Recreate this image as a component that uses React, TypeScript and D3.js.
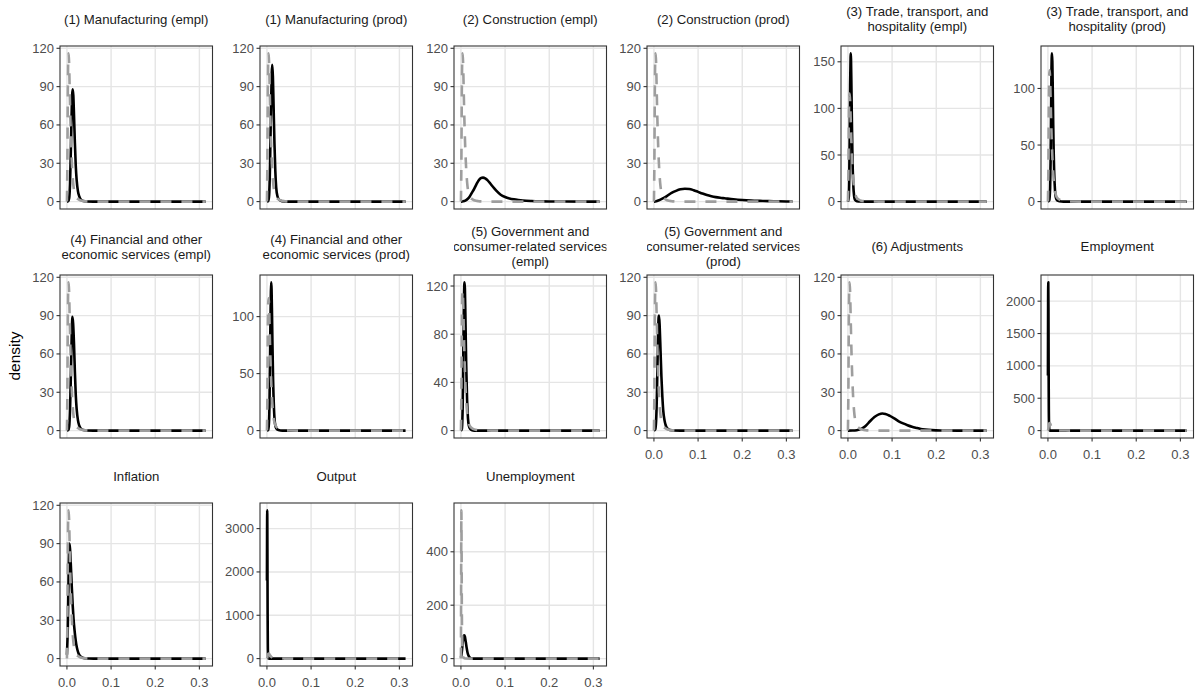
import * as d3 from "d3";
import React from "react";

type Pt = [number, number];

// facet titles, in facet_wrap order (6 columns)
const panelTitles = [
	"(1) Manufacturing (empl)",
	"(1) Manufacturing (prod)",
	"(2) Construction (empl)",
	"(2) Construction (prod)",
	"(3) Trade, transport, and\nhospitality (empl)",
	"(3) Trade, transport, and\nhospitality (prod)",
	"(4) Financial and other\neconomic services (empl)",
	"(4) Financial and other\neconomic services (prod)",
	"(5) Government and\nconsumer-related services\n(empl)",
	"(5) Government and\nconsumer-related services\n(prod)",
	"(6) Adjustments",
	"Employment",
	"Inflation",
	"Output",
	"Unemployment",
];

const yTicks = [
	[0, 30, 60, 90, 120],
	[0, 30, 60, 90, 120],
	[0, 30, 60, 90, 120],
	[0, 30, 60, 90, 120],
	[0, 50, 100, 150],
	[0, 50, 100],
	[0, 30, 60, 90, 120],
	[0, 50, 100],
	[0, 40, 80, 120],
	[0, 30, 60, 90, 120],
	[0, 30, 60, 90, 120],
	[0, 500, 1000, 1500, 2000],
	[0, 30, 60, 90, 120],
	[0, 1000, 2000, 3000],
	[0, 200, 400],
];

const xTicks = [0, 0.1, 0.2, 0.3];
const xTickLabels = ["0.0", "0.1", "0.2", "0.3"];

// prior densities (grey dashed)
const prior: Pt[] = [
	[0, 0], [0.001, 30], [0.002, 85], [0.003, 112], [0.004, 116], [0.005, 108],
	[0.006, 92], [0.007, 76], [0.008, 62], [0.009, 50], [0.01, 40], [0.012, 25],
	[0.014, 15], [0.016, 9], [0.018, 6], [0.02, 4], [0.025, 2], [0.03, 1],
	[0.04, 0.3], [0.05, 0.1], [0.07, 0], [0.314, 0],
];
const priorUnemployment: Pt[] = [
	[0, 0], [0.0005, 300], [0.001, 555], [0.0015, 420], [0.002, 200], [0.003, 60],
	[0.004, 15], [0.006, 3], [0.01, 0.5], [0.02, 0], [0.314, 0],
];

// posterior densities (black)
const manufacturingEmpl: Pt[] = [
	[0, 0], [0.003, 0.3], [0.005, 2.5], [0.007, 14], [0.009, 42], [0.011, 74],
	[0.013, 88], [0.0145, 83], [0.016, 68], [0.018, 46], [0.02, 28], [0.022, 17],
	[0.025, 8], [0.028, 4], [0.032, 1.4], [0.037, 0.4], [0.045, 0.1], [0.06, 0],
	[0.314, 0],
];
const manufacturingProd: Pt[] = [
	[0, 0], [0.003, 0.5], [0.005, 5], [0.007, 28], [0.009, 70], [0.011, 101],
	[0.012, 107], [0.0135, 98], [0.015, 76], [0.017, 46], [0.019, 24], [0.021, 11],
	[0.024, 4], [0.028, 1.3], [0.034, 0.3], [0.045, 0], [0.314, 0],
];
const constructionEmpl: Pt[] = [
	[0, 0], [0.005, 0.2], [0.01, 0.8], [0.015, 2], [0.02, 4], [0.025, 7],
	[0.03, 10], [0.035, 13.5], [0.04, 16.5], [0.045, 18.3], [0.05, 18.8],
	[0.055, 18.2], [0.06, 16.8], [0.065, 14.8], [0.07, 12.6], [0.075, 10.5],
	[0.08, 8.6], [0.09, 5.4], [0.1, 3.6], [0.11, 2.5], [0.12, 1.8], [0.13, 1.3],
	[0.14, 0.9], [0.16, 0.45], [0.18, 0.2], [0.2, 0.08], [0.24, 0.02], [0.314, 0],
];
const constructionProd: Pt[] = [
	[0, 0], [0.005, 0.3], [0.01, 0.9], [0.02, 2.5], [0.03, 4.5], [0.04, 6.8],
	[0.05, 8.4], [0.06, 9.6], [0.07, 10.1], [0.08, 9.9], [0.09, 8.9], [0.1, 7.6],
	[0.11, 6.3], [0.12, 5.1], [0.13, 4.2], [0.14, 3.5], [0.15, 3], [0.16, 2.6],
	[0.18, 1.8], [0.2, 1.2], [0.22, 0.8], [0.24, 0.55], [0.26, 0.35],
	[0.28, 0.22], [0.3, 0.12], [0.314, 0.08],
];
const tradeEmpl: Pt[] = [
	[0, 0], [0.002, 5], [0.003, 25], [0.004, 70], [0.005, 125], [0.006, 155],
	[0.0065, 159], [0.007, 152], [0.008, 120], [0.009, 85], [0.01, 55],
	[0.011, 33], [0.012, 19], [0.014, 6], [0.016, 2], [0.02, 0.5], [0.03, 0.1],
	[0.04, 0], [0.314, 0],
];
const tradeProd: Pt[] = [
	[0, 0], [0.003, 1], [0.005, 12], [0.006, 35], [0.007, 75], [0.008, 115],
	[0.009, 131], [0.01, 124], [0.011, 98], [0.012, 68], [0.013, 45], [0.014, 28],
	[0.016, 10], [0.018, 3.5], [0.021, 1], [0.026, 0.3], [0.035, 0], [0.314, 0],
];
const financialEmpl: Pt[] = [
	[0, 0], [0.003, 0.4], [0.005, 3], [0.007, 16], [0.009, 45], [0.011, 77],
	[0.0125, 89], [0.014, 84], [0.016, 68], [0.018, 46], [0.02, 28], [0.022, 17],
	[0.025, 8], [0.028, 3.8], [0.032, 1.3], [0.037, 0.4], [0.045, 0.1], [0.06, 0],
	[0.314, 0],
];
const financialProd: Pt[] = [
	[0, 0], [0.003, 0.5], [0.005, 10], [0.006, 30], [0.007, 62], [0.008, 98],
	[0.009, 122], [0.0097, 130], [0.0105, 124], [0.0115, 102], [0.0125, 76],
	[0.014, 44], [0.016, 19], [0.018, 7], [0.021, 2], [0.026, 0.5], [0.035, 0],
	[0.314, 0],
];
const governmentEmpl: Pt[] = [
	[0, 0], [0.002, 1], [0.004, 20], [0.005, 50], [0.006, 85], [0.007, 112],
	[0.008, 123], [0.009, 118], [0.01, 98], [0.011, 75], [0.012, 54], [0.014, 25],
	[0.016, 10], [0.018, 4], [0.021, 1.3], [0.025, 0.4], [0.035, 0], [0.314, 0],
];
const governmentProd: Pt[] = [
	[0, 0], [0.003, 1], [0.005, 8], [0.007, 32], [0.009, 70], [0.0105, 88],
	[0.0115, 90], [0.013, 82], [0.015, 62], [0.017, 42], [0.019, 27], [0.021, 16],
	[0.024, 8], [0.027, 3.8], [0.031, 1.5], [0.036, 0.5], [0.045, 0.1], [0.06, 0],
	[0.314, 0],
];
const adjustments: Pt[] = [
	[0, 0], [0.01, 0.05], [0.02, 0.3], [0.03, 1.3], [0.04, 3.6], [0.05, 7.3],
	[0.06, 10.6], [0.07, 12.7], [0.078, 13.4], [0.085, 13], [0.095, 11.5],
	[0.105, 9.5], [0.115, 7.3], [0.125, 5.6], [0.135, 4.2], [0.145, 3],
	[0.155, 2.1], [0.165, 1.3], [0.175, 0.8], [0.19, 0.35], [0.21, 0.1],
	[0.25, 0], [0.314, 0],
];
const employment: Pt[] = [
	[0, 850], [0.0004, 2000], [0.0008, 2290], [0.0012, 1900], [0.0016, 1000],
	[0.002, 380], [0.0025, 100], [0.003, 20], [0.004, 2], [0.006, 0], [0.314, 0],
];
const inflation: Pt[] = [
	[0, 3], [0.002, 25], [0.004, 70], [0.0055, 90], [0.007, 86], [0.009, 72],
	[0.011, 56], [0.013, 42], [0.015, 31], [0.017, 23], [0.019, 16.5],
	[0.021, 11.5], [0.024, 6.5], [0.027, 3.5], [0.03, 2], [0.035, 0.8],
	[0.04, 0.3], [0.05, 0.1], [0.06, 0], [0.314, 0],
];
const output: Pt[] = [
	[0, 1800], [0.0003, 2900], [0.0006, 3420], [0.0009, 3100], [0.0012, 2200],
	[0.0016, 1000], [0.002, 350], [0.0025, 80], [0.003, 15], [0.004, 2],
	[0.006, 0], [0.314, 0],
];
const unemployment: Pt[] = [
	[0, 3], [0.002, 25], [0.004, 60], [0.006, 82], [0.0075, 87], [0.009, 82],
	[0.011, 62], [0.013, 40], [0.015, 22], [0.018, 8], [0.021, 2.5],
	[0.025, 0.6], [0.03, 0], [0.314, 0],
];

const posteriors = [
	manufacturingEmpl, manufacturingProd, constructionEmpl, constructionProd,
	tradeEmpl, tradeProd, financialEmpl, financialProd, governmentEmpl,
	governmentProd, adjustments, employment, inflation, output, unemployment,
];
const priors = [
	prior, prior, prior, prior, prior, prior, prior, prior, prior, prior,
	prior, prior, prior, prior, priorUnemployment,
];

// layout
const W = 1200;
const H = 692;
const colLefts = [60, 260, 454, 647, 841, 1041];
const rowTops = [46, 275, 503];
const panelW = 152.5;
const panelH = 163;
const stripCenters = [19, 246.7, 476];
const lineGap = 15;
const font = "'Liberation Sans', Arial, Helvetica, sans-serif";

const allX = posteriors.concat(priors).flat().map((d) => d[0]);
const xMin = d3.min(allX) ?? 0;
const xMax = d3.max(allX) ?? 1;
const xPad = (xMax - xMin) * 0.05;

const Panel = ({ i }: { i: number }) => {
	const col = i % 6;
	const row = Math.floor(i / 6);
	const left = colLefts[col];
	const top = rowTops[row];
	const bottom = top + panelH;
	const showX = i + 6 >= panelTitles.length;

	const x = d3
		.scaleLinear()
		.domain([xMin - xPad, xMax + xPad])
		.range([left, left + panelW]);
	const yMax =
		d3.max(posteriors[i].concat(priors[i]), (d) => d[1]) ?? 1;
	const y = d3
		.scaleLinear()
		.domain([-0.05 * yMax, 1.05 * yMax])
		.range([bottom, top]);

	const line = d3
		.line<Pt>()
		.x((d) => x(d[0]))
		.y((d) => y(d[1]))
		.curve(d3.curveMonotoneX);

	const lines = panelTitles[i].split("\n");
	const clipId = `clip-${i}`;
	const stripClip = `strip-${i}`;

	return (
		<g>
			<defs>
				<clipPath id={clipId}>
					<rect x={left} y={top} width={panelW} height={panelH} />
				</clipPath>
				<clipPath id={stripClip}>
					<rect x={left} y={top - 60} width={panelW} height={60} />
				</clipPath>
			</defs>
			<rect x={left} y={top} width={panelW} height={panelH} fill="#fff" />
			{xTicks.map((t) => (
				<line
					key={`gx${t}`}
					x1={x(t)}
					x2={x(t)}
					y1={top}
					y2={bottom}
					stroke="#e5e5e5"
					strokeWidth={1.4}
				/>
			))}
			{yTicks[i].map((t) => (
				<line
					key={`gy${t}`}
					x1={left}
					x2={left + panelW}
					y1={y(t)}
					y2={y(t)}
					stroke="#e5e5e5"
					strokeWidth={1.4}
				/>
			))}
			<g clipPath={`url(#${clipId})`}>
				<path
					d={line(posteriors[i]) ?? ""}
					fill="none"
					stroke="#000"
					strokeWidth={2.6}
					strokeLinejoin="round"
				/>
				<path
					d={line(priors[i]) ?? ""}
					fill="none"
					stroke="#9e9e9e"
					strokeWidth={2.6}
					strokeDasharray="11 10"
				/>
			</g>
			<rect
				x={left}
				y={top}
				width={panelW}
				height={panelH}
				fill="none"
				stroke="#333"
				strokeWidth={1.1}
			/>
			{yTicks[i].map((t) => (
				<g key={`ty${t}`}>
					<line
						x1={left - 3.5}
						x2={left}
						y1={y(t)}
						y2={y(t)}
						stroke="#333"
						strokeWidth={1.1}
					/>
					<text
						x={left - 6}
						y={y(t)}
						dy="0.35em"
						textAnchor="end"
						fontSize={13}
						fill="#4d4d4d"
					>
						{t}
					</text>
				</g>
			))}
			{showX &&
				xTicks.map((t, k) => (
					<g key={`tx${t}`}>
						<line
							x1={x(t)}
							x2={x(t)}
							y1={bottom}
							y2={bottom + 3.5}
							stroke="#333"
							strokeWidth={1.1}
						/>
						<text
							x={x(t)}
							y={bottom + 20.5}
							textAnchor="middle"
							fontSize={13}
							fill="#4d4d4d"
						>
							{xTickLabels[k]}
						</text>
					</g>
				))}
			<g clipPath={`url(#${stripClip})`}>
				{lines.map((s, k) => (
					<text
						key={k}
						x={left + panelW / 2}
						y={stripCenters[row] + (k - (lines.length - 1) / 2) * lineGap}
						dy="0.35em"
						textAnchor="middle"
						fontSize={13.2}
						fill="#1a1a1a"
					>
						{s}
					</text>
				))}
			</g>
		</g>
	);
};

export default function App() {
	return (
		<svg
			width={W}
			height={H}
			viewBox={`0 0 ${W} ${H}`}
			style={{ position: "absolute", left: 0, top: 0, background: "#fff" }}
			fontFamily={font}
		>
			<rect width={W} height={H} fill="#fff" />
			{panelTitles.map((_, i) => (
				<Panel key={i} i={i} />
			))}
			<text
				transform={`translate(15,${(rowTops[0] + rowTops[2] + panelH) / 2}) rotate(-90)`}
				textAnchor="middle"
				dy="0.35em"
				fontSize={15.5}
				fill="#000"
			>
				density
			</text>
		</svg>
	);
}
